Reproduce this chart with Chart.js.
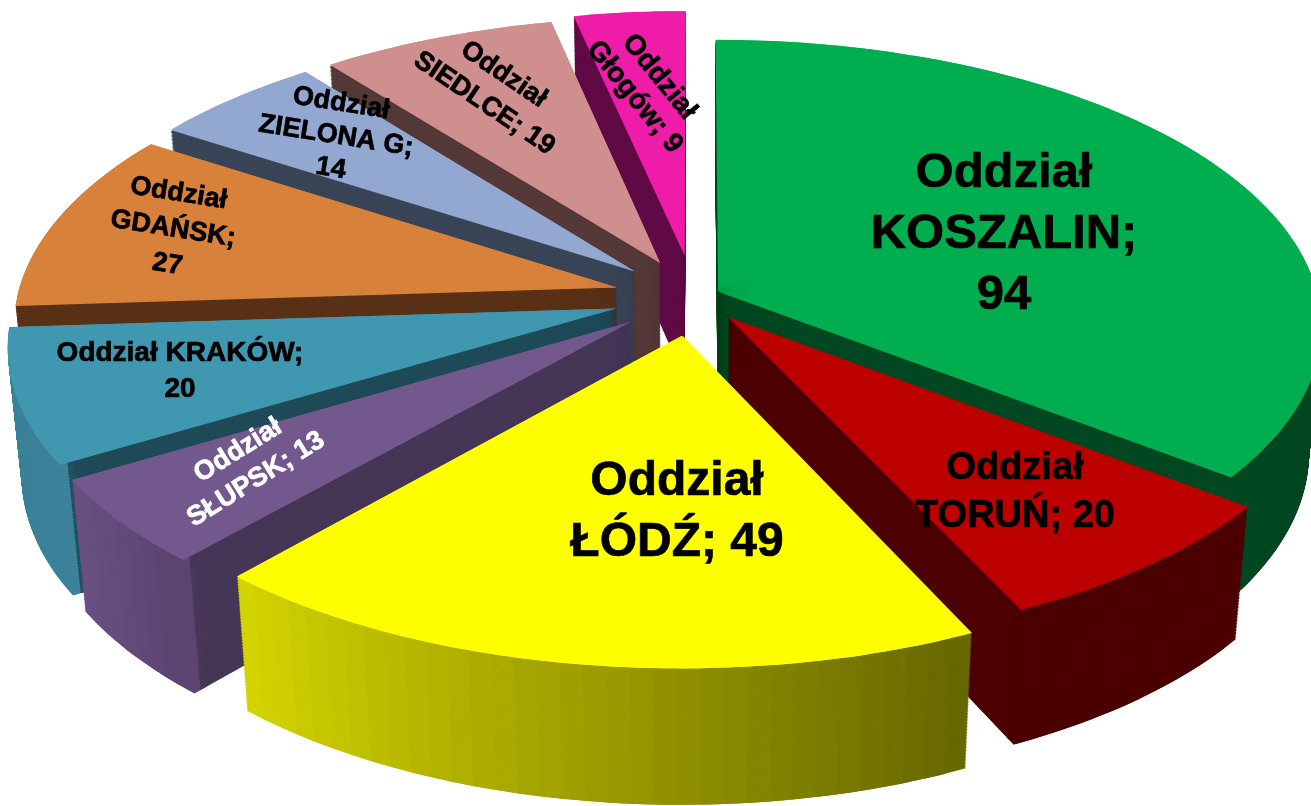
<!DOCTYPE html>
<html>
<head>
<meta charset="utf-8">
<title>Oddziały</title>
<script src="https://cdn.jsdelivr.net/npm/chart.js@4"></script>
<style>
  html, body { margin: 0; padding: 0; background: #fff; overflow: hidden; }
  #wrap { width: 1311px; height: 806px; }
</style>
</head>
<body>
<div id="wrap"><canvas id="chart"></canvas></div>
<script>
// ===== Data =====
const categories = ['Oddział KOSZALIN', 'Oddział TORUŃ', 'Oddział ŁÓDŹ', 'Oddział SŁUPSK', 'Oddział KRAKÓW',
  'Oddział GDAŃSK', 'Oddział ZIELONA G', 'Oddział SIEDLCE', 'Oddział Głogów'];
const values = [94, 20, 49, 13, 20, 27, 14, 19, 9];

// ===== Styles =====
const topColors = ['#00ae50', '#bc0000', '#ffff00', '#72588c', '#4097b0', '#d8813a', '#93a8d0', '#ce8f8e', '#ee1ca8'];
const edgeColors = ['#004822', '#4c0000', '#666600', '#463656', '#1f4a58', '#593117', '#3a4457', '#553838', '#600a45'];
// rim colour at the clockwise start and end of each slice
const rimFrom = ['#004822', '#4c0000', '#666600', '#5c4470', '#3c829a', '#593117', '#3a4457', '#553838', '#600a45'];
const rimTo = ['#004822', '#4c0000', '#d6d600', '#6a5284', '#3c829a', '#593117', '#3a4457', '#553838', '#600a45'];
const explode = [0.045, 0.09, 0.135, 0.135, 0.135, 0.133, 0.135, 0.135, 0.15];
const drawOrder = [8, 7, 6, 5, 4, 3, 0, 1, 2]; // back to front

// ground plane perspective
const view = { cx: 694, cy: 297, rx: 600, ky: 283, p: 0.12, q: 0.02, depth: 128, layers: 90 };

// how each label is laid out: 'a' = name and value on own lines, 'b' = name; value, 'c' = Oddział name; / value
const labelLayout = [
  { x: 1004, y: 234, size: 49, lh: 61, rot: 0, kind: 'a', color: '#000' },
  { x: 1015, y: 493, size: 38, lh: 48, rot: 0, kind: 'b', color: '#000' },
  { x: 677, y: 512, size: 48, lh: 61, rot: 0, kind: 'b', color: '#000' },
  { x: 247, y: 465, size: 27, lh: 34, rot: -32, kind: 'b', color: '#fff' },
  { x: 180, y: 371, size: 28, lh: 36, rot: 0, kind: 'c', color: '#000' },
  { x: 173, y: 229, size: 27, lh: 36, rot: 9, kind: 'a', color: '#000' },
  { x: 336, y: 136, size: 27, lh: 33, rot: 9, kind: 'a', color: '#000' },
  { x: 494, y: 89, size: 27, lh: 35, rot: 34, kind: 'b', color: '#000' },
  { x: 647, y: 87, size: 28, lh: 32, rot: 51, kind: 'b', color: '#000' }
];

// ===== Helpers =====
function hexRgb(hex) {
  return [1, 3, 5].map(i => parseInt(hex.slice(i, i + 2), 16));
}
function mix(a, b, t) {
  const ca = hexRgb(a), cb = hexRgb(b);
  return `rgb(${ca.map((v, i) => Math.round(v + (cb[i] - v) * t)).join(',')})`;
}
// plane point (unit radius) + depth 0..1 to screen
function project(u, v, z) {
  const w = 1 - view.p * v + view.q * z;
  return { x: view.cx + view.rx * u / w, y: view.cy + (view.ky * v + view.depth * z) / w };
}

// draws one wedge of an arc element through the local affine of the projection
function drawWedge(ctx, el, a0, a1, mid, off, z, color, innerFrac, outerFrac, overlap) {
  const R = el.outerRadius;
  const ox = Math.cos(mid) * off, oy = Math.sin(mid) * off;
  const t0 = project(ox, oy, z);
  const t1 = project(ox + Math.cos(a0), oy + Math.sin(a0), z);
  const t2 = project(ox + Math.cos(a1), oy + Math.sin(a1), z);
  const s1x = R * Math.cos(a0), s1y = R * Math.sin(a0), s2x = R * Math.cos(a1), s2y = R * Math.sin(a1);
  const det = s1x * s2y - s2x * s1y;
  const ix = [s2y / det, -s2x / det, -s1y / det, s1x / det];
  const dx1 = t1.x - t0.x, dx2 = t2.x - t0.x, dy1 = t1.y - t0.y, dy2 = t2.y - t0.y;
  const a = dx1 * ix[0] + dx2 * ix[2], c = dx1 * ix[1] + dx2 * ix[3];
  const b = dy1 * ix[0] + dy2 * ix[2], d = dy1 * ix[1] + dy2 * ix[3];
  ctx.save();
  ctx.setTransform(a, b, c, d, t0.x - a * el.x - c * el.y, t0.y - b * el.x - d * el.y);
  const wedge = Object.create(el);
  wedge.options = {
    backgroundColor: color, borderColor: color, borderWidth: 0, borderRadius: 0, offset: 0, spacing: 0,
    circular: true, borderAlign: 'center', borderJoinStyle: 'round', borderDash: [], borderDashOffset: 0
  };
  wedge.startAngle = a0;
  wedge.endAngle = a1 + overlap;
  wedge.circumference = a1 + overlap - a0;
  wedge.innerRadius = R * innerFrac;
  wedge.outerRadius = R * outerFrac;
  wedge.draw(ctx);
  ctx.restore();
}

const STEP = 2 * Math.PI / 180;

function drawSlice(ctx, el, i) {
  const start = el.startAngle, end = el.endAngle, mid = (start + end) / 2;
  const off = el.options.offset / 100;
  const n = Math.ceil((end - start) / STEP);
  const da = (end - start) / n;
  // walls, stacked from the bottom up; each wedge runs under the next one so no seams show
  for (let l = view.layers; l >= 1; l--) {
    const z = l / view.layers;
    for (let k = 0; k < n; k++) {
      const a0 = start + k * da, a1 = a0 + da, ov = k < n - 1 ? da : 0;
      drawWedge(ctx, el, a0, a1, mid, off, z, mix(rimFrom[i], rimTo[i], (k + 0.5) / n), 0.975, 1, ov);
      drawWedge(ctx, el, a0, a1, mid, off, z, edgeColors[i], 0, 0.985, ov);
    }
  }
  // top face
  for (let k = 0; k < n; k++) {
    const a0 = start + k * da;
    drawWedge(ctx, el, a0, a0 + da, mid, off, 0, topColors[i], 0, 1, k < n - 1 ? da : 0);
  }
}

function labelLines(i) {
  const name = categories[i].replace('Oddział ', '');
  const kind = labelLayout[i].kind;
  if (kind === 'a') return ['Oddział', name + ';', String(values[i])];
  if (kind === 'b') return ['Oddział', name + '; ' + values[i]];
  return [categories[i] + ';', String(values[i])];
}

const pie3d = {
  id: 'pie3d',
  beforeDatasetsDraw(chart) {
    const ctx = chart.ctx;
    const arcs = chart.getDatasetMeta(0).data;
    drawOrder.forEach(i => drawSlice(ctx, arcs[i], i));
    return false; // the flat pie is replaced by the projected one
  },
  afterDraw(chart) {
    const ctx = chart.ctx;
    labelLayout.forEach((l, i) => {
      const lines = labelLines(i);
      ctx.save();
      ctx.translate(l.x, l.y);
      ctx.rotate(l.rot * Math.PI / 180);
      ctx.font = `bold ${l.size}px "Liberation Sans", Arial, sans-serif`;
      ctx.fillStyle = l.color;
      ctx.strokeStyle = l.color;
      ctx.lineWidth = 0.7;
      ctx.textAlign = 'center';
      ctx.textBaseline = 'middle';
      lines.forEach((t, k) => {
        const y = (k - (lines.length - 1) / 2) * l.lh;
        ctx.fillText(t, 0, y);
        ctx.strokeText(t, 0, y);
      });
      ctx.restore();
    });
  }
};

new Chart(document.getElementById('chart'), {
  type: 'pie',
  data: {
    labels: categories,
    datasets: [{
      data: values,
      backgroundColor: topColors,
      borderWidth: 0,
      hoverOffset: 0,
      offset: explode.map(e => e * 100)
    }]
  },
  options: {
    responsive: true,
    maintainAspectRatio: false,
    animation: false,
    events: [],
    plugins: { legend: { display: false }, tooltip: { enabled: false } }
  },
  plugins: [pie3d]
});
</script>
</body>
</html>
